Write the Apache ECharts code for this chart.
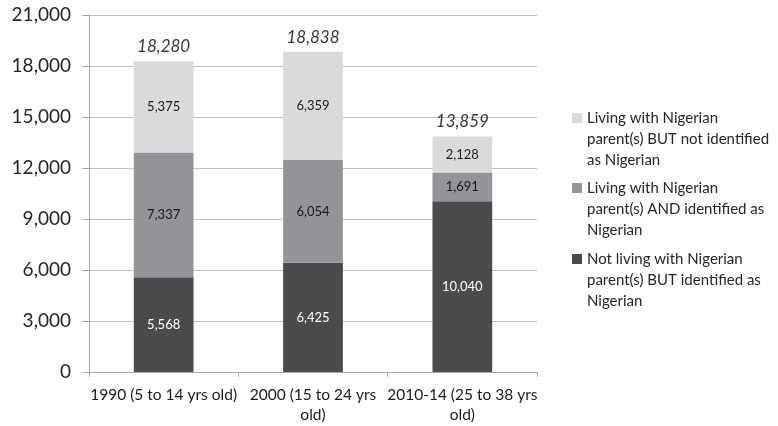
<!DOCTYPE html>
<html>
<head>
<meta charset="utf-8">
<script src="https://cdn.jsdelivr.net/npm/echarts@6/dist/echarts.min.js"></script>
<style>
  html, body { margin: 0; padding: 0; background: #fff; }
  #chart { width: 778px; height: 426px; }
</style>
</head>
<body>
<div id="chart"></div>
<script>
// data
var categories = ['1990 (5 to 14 yrs old)', '2000 (15 to 24 yrs old)', '2010-14 (25 to 38 yrs old)'];
var notLivingIdentified = [5568, 6425, 10040];
var livingIdentified = [7337, 6054, 1691];
var livingNotIdentified = [5375, 6359, 2128];
var seriesNames = [
    'Not living with Nigerian parent(s) BUT identified as Nigerian',
    'Living with Nigerian parent(s) AND identified as Nigerian',
    'Living with Nigerian parent(s) BUT not identified as Nigerian'
];
var legendText = [
    'Not living with Nigerian\nparent(s) BUT identified as\nNigerian',
    'Living with Nigerian\nparent(s) AND identified as\nNigerian',
    'Living with Nigerian\nparent(s) BUT not identified\nas Nigerian'
];
var totals = categories.map(function (c, i) {
    return notLivingIdentified[i] + livingIdentified[i] + livingNotIdentified[i];
});

var FONT = 'Lato';
var colors = ['#4b4b4d', '#939497', '#d9dadb'];

function fmt(v) {
    return v.toLocaleString('en-US');
}

var myChart = echarts.init(document.getElementById('chart'));

// legend: one block per item; two empty lines on top so the icon sits on the first line
function legendItem(idx, c) {
    return {
        data: [seriesNames[idx]],
        orient: 'vertical',
        left: 567,
        top: c - 52.5,
        icon: 'rect',
        itemWidth: 10,
        itemHeight: 10,
        itemGap: 0,
        selectedMode: false,
        formatter: function () { return '\n\n' + legendText[idx]; },
        textStyle: {
            fontFamily: FONT,
            fontSize: 15,
            color: '#262626',
            lineHeight: 21
        }
    };
}

function barSeries(idx, data, labelColor) {
    return {
        name: seriesNames[idx],
        type: 'bar',
        stack: 'total',
        barWidth: '40%',
        data: data,
        itemStyle: { color: colors[idx] },
        label: {
            show: true,
            position: 'inside',
            color: labelColor,
            fontFamily: FONT,
            fontSize: 13,
            formatter: function (p) { return fmt(p.value); }
        }
    };
}

var option = {
    animation: false,
    grid: { left: 89, right: 241, top: 15, bottom: 54 },
    legend: [legendItem(2, 113), legendItem(1, 183), legendItem(0, 254)],
    xAxis: {
        type: 'category',
        data: categories,
        axisLine: { lineStyle: { color: '#a6a6a6' } },
        axisTick: { show: true, length: 5, lineStyle: { color: '#a6a6a6' } },
        axisLabel: {
            color: '#1a1a1a',
            fontFamily: FONT,
            fontSize: 15.5,
            margin: 13,
            lineHeight: 20,
            interval: 0,
            formatter: function (v) {
                return v.length > 22 ? v.replace(' old)', '\nold)') : v;
            }
        }
    },
    yAxis: {
        type: 'value',
        min: 0,
        max: 21000,
        interval: 3000,
        axisLine: { show: true, lineStyle: { color: '#a6a6a6' } },
        axisTick: { show: true, length: 7, lineStyle: { color: '#a6a6a6' } },
        splitLine: { lineStyle: { color: '#c0c0c0' } },
        axisLabel: {
            color: '#262626',
            fontFamily: FONT,
            fontSize: 19,
            margin: 18,
            formatter: function (v) { return fmt(v); }
        }
    },
    series: [
        barSeries(0, notLivingIdentified, '#ffffff'),
        barSeries(1, livingIdentified, '#1a1a1a'),
        barSeries(2, livingNotIdentified, '#1a1a1a'),
        {
            name: 'Total',
            type: 'scatter',
            data: totals,
            symbolSize: 0,
            label: {
                show: true,
                position: 'top',
                distance: 6,
                color: '#000000',
                fontFamily: FONT,
                fontStyle: 'italic',
                fontSize: 17,
                formatter: function (p) { return fmt(p.value); }
            }
        }
    ]
};

myChart.setOption(option);
</script>
</body>
</html>
